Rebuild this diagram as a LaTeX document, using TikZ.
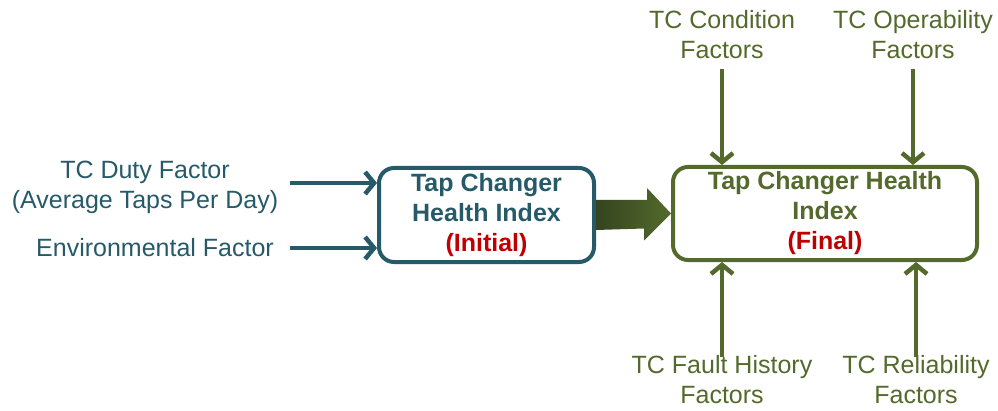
\documentclass[tikz,border=0pt]{standalone}
\usepackage{fontspec}
\setmainfont{Liberation Sans}
\usetikzlibrary{arrows.meta}
\definecolor{tcteal}{HTML}{265A69}
\definecolor{tcgreen}{HTML}{546A2C}
\definecolor{tcdark}{HTML}{34441F}
\definecolor{tcred}{HTML}{C00000}
\begin{document}
\begin{tikzpicture}[x=1pt,y=1pt,
	    lbl/.style={align=center,font=\fontsize{25}{30}\selectfont,inner sep=2pt},
	    hibox/.style={line width=4pt,rounded corners=15pt,align=center,inner sep=0pt,font=\fontsize{25}{30}\selectfont\bfseries},
	    feed/.style={line width=4.5pt,-{Straight Barb[length=9pt,width=22pt]}}]
	    \useasboundingbox (0,0) rectangle (998,410);
	    % the two index boxes
	    \node[hibox,draw=tcteal,text=tcteal,minimum width=215pt,minimum height=94pt] (init) at (486.5,195) {Tap Changer\\Health Index\\\textcolor{tcred}{(Initial)}};
	    \node[hibox,draw=tcgreen,text=tcgreen,minimum width=304pt,minimum height=93pt] (final) at (825,196.5) {Tap Changer Health\\Index\\\textcolor{tcred}{(Final)}};
	    % fat arrow initial -> final
	    \shade[left color=tcdark,right color=tcgreen] ([yshift=15pt]init.east) -- ++(51,0) -- ++(0,12) -- (final.west) -- ++(-27,-27) -- ++(0,12) -- ([yshift=-15pt]init.east) -- cycle;
	    % inputs on the left
	    \node[lbl,text=tcteal] (duty) at (145,222.5) {TC Duty Factor\\(Average Taps Per Day)};
	    \node[lbl,text=tcteal] (env) at (155,162) {Environmental Factor};
	    \coordinate (dutyin) at (290,227);
	    \coordinate (envin) at (290,162);
	    \draw[feed,tcteal] (dutyin) -- (dutyin -| init.west);
	    \draw[feed,tcteal] (envin) -- (envin -| init.west);
	    % factors above and below
	    \node[lbl,text=tcgreen] (cond) at (722,375) {TC Condition\\Factors};
	    \node[lbl,text=tcgreen] (oper) at (913,375) {TC Operability\\Factors};
	    \node[lbl,text=tcgreen] (fault) at (722,30) {TC Fault History\\Factors};
	    \node[lbl,text=tcgreen] (rel) at (916,30) {TC Reliability\\Factors};
	    \draw[feed,tcgreen] ([yshift=-8pt]cond.south) -- (cond.south |- final.north);
	    \draw[feed,tcgreen] ([yshift=-8pt]oper.south) -- (oper.south |- final.north);
	    \draw[feed,tcgreen] ([yshift=-3pt]fault.north) -- (fault.north |- final.south);
	    \draw[feed,tcgreen] ([yshift=-3pt]rel.north) -- (rel.north |- final.south);
	\end{tikzpicture}
\end{document}
